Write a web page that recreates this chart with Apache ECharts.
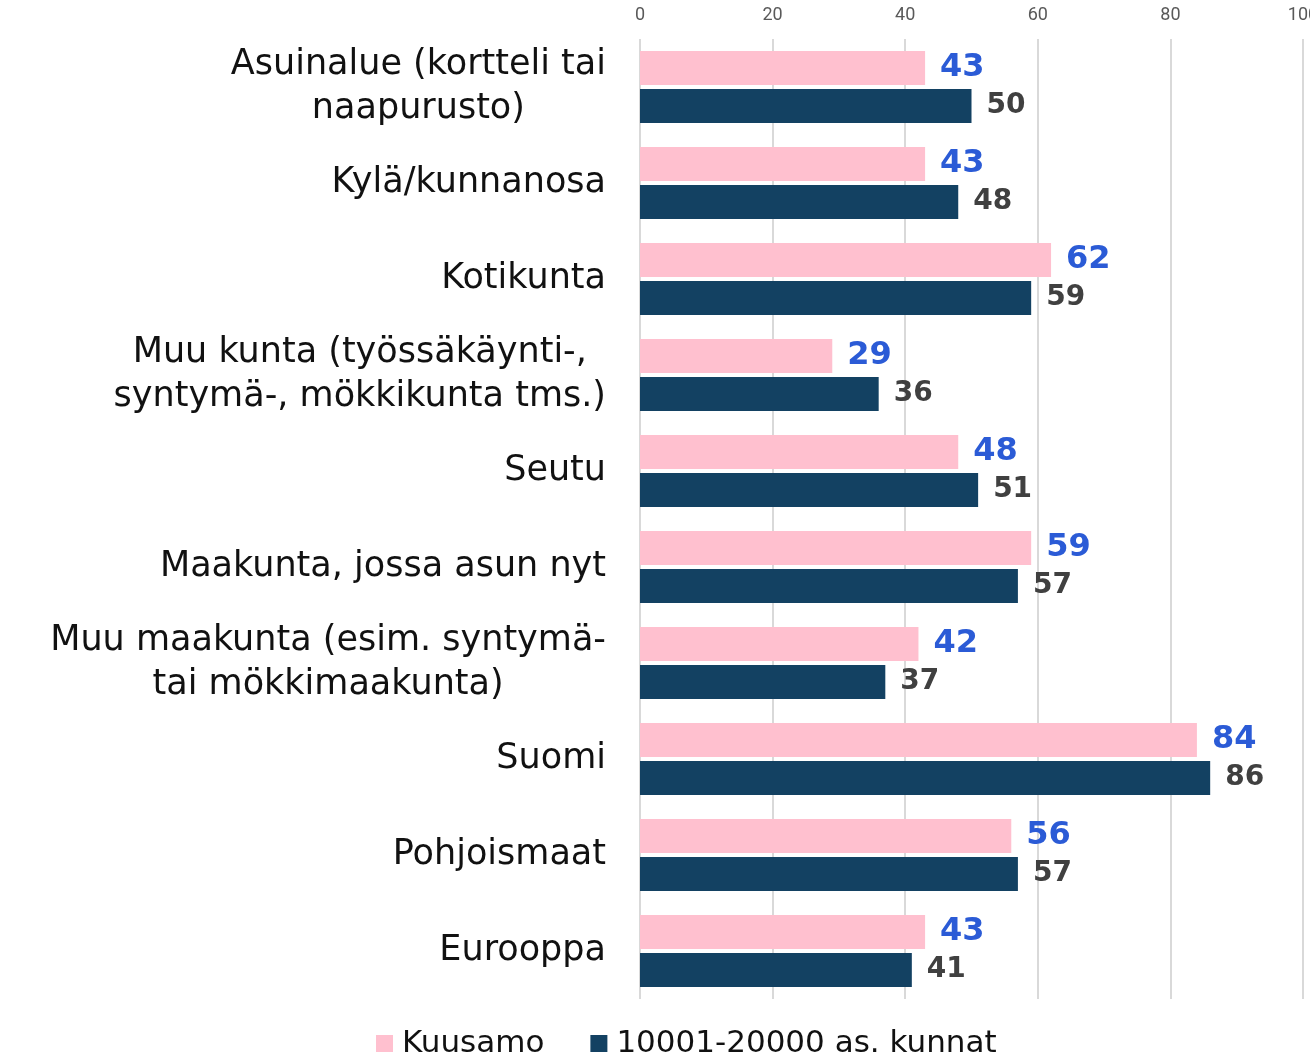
<!DOCTYPE html>
<html><head><meta charset="utf-8">
<script src="https://cdn.jsdelivr.net/npm/echarts@6/dist/echarts.min.js"></script>
<style>html,body{margin:0;padding:0;background:#fff;overflow:hidden}#c{width:1310px;height:1061px}</style>
</head><body><div id="c"></div>
<script>
const categories = [
  "Asuinalue (kortteli tai\nnaapurusto)",
  "Kylä/kunnanosa",
  "Kotikunta",
  "Muu kunta (työssäkäynti-,\nsyntymä-, mökkikunta tms.)",
  "Seutu",
  "Maakunta, jossa asun nyt",
  "Muu maakunta (esim. syntymä-\ntai mökkimaakunta)",
  "Suomi",
  "Pohjoismaat",
  "Eurooppa"
];
const kuusamo = [43, 43, 62, 29, 48, 59, 42, 84, 56, 43];
const kunnat = [50, 48, 59, 36, 51, 57, 37, 86, 57, 41];
const seriesNames = ["Kuusamo", "10001-20000 as. kunnat"];

const chart = echarts.init(document.getElementById('c'), null, {renderer: 'canvas'});
const FONT = 'DejaVu Sans';
chart.setOption({
  animation: false,
  grid: {left: 640, right: 7, top: 39, bottom: 62, containLabel: false, outerBoundsMode: 'none'},
  legend: {
    bottom: -3, left: 371,
    itemWidth: 17, itemHeight: 17, itemGap: 46,
    icon: 'rect',
    textStyle: {fontFamily: FONT, fontSize: 31, color: '#111', padding: [0, 0, 0, 4]},
    data: seriesNames
  },
  xAxis: {
    type: 'value', position: 'top', min: 0, max: 100, interval: 20,
    axisLine: {show: false}, axisTick: {show: false},
    splitLine: {show: true, lineStyle: {color: '#d9d9d9', width: 2}},
    axisLabel: {fontFamily: 'Roboto', fontSize: 18, color: '#595959', margin: 15}
  },
  yAxis: {
    type: 'category', inverse: true, data: categories,
    axisLine: {show: false}, axisTick: {show: false},
    axisLabel: {
      margin: 34, color: '#111',
      fontFamily: FONT, fontSize: 35, lineHeight: 44,
      formatter: v => v.split('\n').map(s => '{c|' + s + '}').join('\n'),
      rich: {c: {align: 'center', fontFamily: FONT, fontSize: 35, lineHeight: 44, color: '#111'}}
    }
  },
  series: [
    {
      name: seriesNames[0], type: 'bar', data: kuusamo,
      barWidth: 34, barGap: '12%',
      itemStyle: {color: '#FFC0CF'},
      label: {show: true, position: 'right', distance: 15, color: '#2B5BD6',
        fontFamily: FONT, fontWeight: 'bold', fontSize: 32}
    },
    {
      name: seriesNames[1], type: 'bar', data: kunnat,
      barWidth: 34,
      itemStyle: {color: '#134162'},
      label: {show: true, position: 'right', distance: 15, color: '#404040',
        fontFamily: FONT, fontWeight: 'bold', fontSize: 28}
    }
  ]
});
</script></body></html>
